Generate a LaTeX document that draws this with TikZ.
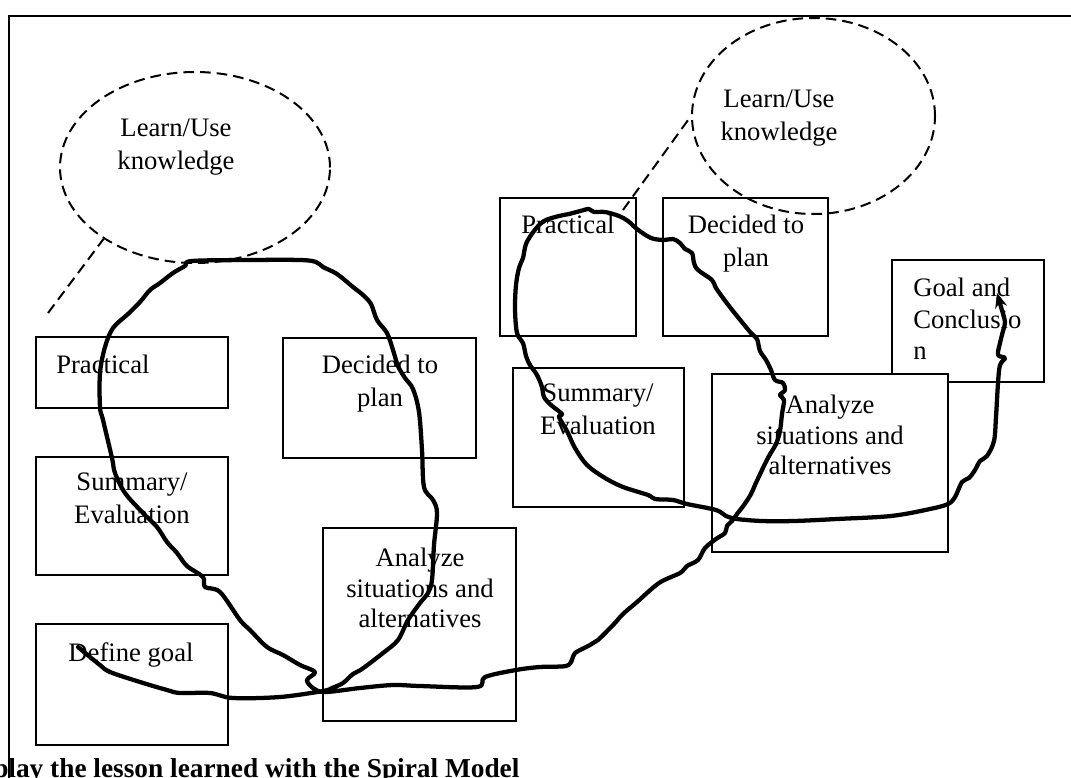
\documentclass[tikz,border=0pt]{standalone}
\usepackage{fontspec}
\setmainfont{Liberation Serif}
\usetikzlibrary{shapes.geometric,arrows.meta,fit}
\begin{document}
\begin{tikzpicture}[x=0.75pt,y=-0.75pt,
  box/.style={draw, line width=1.15pt, fill=white, inner sep=0pt},
  txt/.style={inner sep=0pt, font=\fontsize{20}{24.75}\selectfont, align=center},
  txtA/.style={inner sep=0pt, font=\fontsize{20}{22.9}\selectfont, align=center},
  bubble/.style={ellipse, draw, line width=1.5pt, dash pattern=on 8pt off 4.5pt, inner sep=0pt},
  lead/.style={line width=1.5pt, dash pattern=on 8pt off 4.5pt},
  spiral/.style={line width=3.2pt, line join=round, line cap=round},
  frame/.style={line width=1.6pt}]

\useasboundingbox (0,0) rectangle (1071,778);
\clip (0,0) rectangle (1071,778);

% boxes
\node[box, fit={(36,337) (228,408)}] (prL) {};
\node[box, fit={(36,457) (228,575)}] (suL) {};
\node[box, fit={(36,624) (228,745)}] (dgL) {};
\node[box, fit={(283,338) (476,458)}] (deL) {};
\node[box, fit={(323,528) (516,721)}] (anL) {};
\node[box, fit={(500,198) (636,336)}] (prR) {};
\node[box, fit={(663,198) (828,336)}] (deR) {};
\node[box, fit={(513,368) (684,507)}] (suR) {};
\node[box, fit={(892,260) (1044,382)}] (goal) {};
\node[box, fit={(712,374) (948,552)}] (anR) {};

% box texts
\node[txt, anchor=north west, align=left] (prLt) at (56,355) {Practical};
\node[txt, anchor=north] (suLt) at (132,473) {Summary/\\Evaluation};
\node[txt, anchor=north] (dgLt) at (131,642) {Define goal};
\node[txt, anchor=north] (deLt) at (380,355) {Decided to\\plan};
\node[txtA, anchor=north] (anLt) at (420,548) {Analyze\\situations and\\alternatives};
\node[txt, anchor=north west, align=left] (prRt) at (521,215) {Practical};
\node[txt, anchor=north] (deRt) at (746,215) {Decided to\\plan};
\node[txt, anchor=north] (suRt) at (598,384) {Summary/\\Evaluation};
\node[txtA, anchor=north] (anRt) at (830,395) {Analyze\\situations and\\alternatives};
\node[txtA, anchor=north west, align=left, font=\fontsize{20}{23.6}\selectfont] (goalt) at (913,278) {Goal and\\Conclusio\\n};

% knowledge bubbles
\node[bubble, minimum width=202.5pt, minimum height=143.25pt] (ellL) at (195,167.5) {};
\node[bubble, minimum width=182.25pt, minimum height=147pt] (ellR) at (813.5,116) {};
\node[txt, anchor=north] (ellLt) at (176,119) {Learn/Use\\knowledge};
\node[txt, anchor=north] (ellRt) at (779,90) {Learn/Use\\knowledge};

\coordinate (lL) at (48,313);
\coordinate (lR) at (623,210);
\draw[lead] (lL) -- (ellL.218);
\draw[lead] (lR) -- (ellR.180);

% spiral
\draw[spiral, -{Stealth[length=11pt,width=9pt]}] plot[smooth, tension=0.55] coordinates {
(78,647) (90,657) (100,665) (110,672) (140,682) (167,690) (180,693) (210,693) (233,698) (280,697) (323,691)
(332,688) (343,683) (353,674) (362,669) (383,653) (398,640) (408,620) (420,603) (428,593) (432,580) (434,545) (437,513) (433,500) (424,487) (422,450) (419,412) (413,389) (405,378) (398,366) (393,350) (387,333) (377,320) (371,304) (363,295) (353,287) (337,274) (323,267) (316,262) (300,260) (250,260) (192,261) (185,266) (173,273) (160,283) (150,290) (140,302) (128,314) (113,328) (105,347) (100,373) (100,407) (103,420) (112,458) (115,473) (125,493) (143,513) (157,527) (167,542) (177,553) (187,566) (203,577) (205,587) (220,592) (240,620) (250,630) (267,647) (283,655) (300,665) (315,672) (307,680) (313,688) (325,692)
(360,688) (393,685) (420,686) (477,687) (485,677) (516,670) (540,667) (566,666) (572,660) (575,653) (590,645) (598,640) (614,624) (623,614) (637,602) (659,583) (680,573) (687,566) (698,560) (705,548) (716,539) (725,533) (727,526) (732,521) (737,514) (744,505) (751,494) (755,485) (762,470) (769,456) (776,444) (780,431) (782,414) (784,400) (780,395) (785,390) (783,383) (775,380) (771,370) (766,360) (760,351) (757,339) (751,333) (737,316) (726,302) (716,288) (712,280) (698,270) (694,263) (692,253) (685,249) (680,243) (673,239) (664,240) (651,238) (637,229) (628,221) (619,216) (605,212) (594,212) (589,209) (584,210) (569,214) (559,216) (544,221) (534,231) (526,244) (523,258) (519,268) (516,285) (515,309) (517,333) (523,343) (526,356) (530,365) (537,375) (542,387) (544,397) (551,405) (562,414) (559,417) (567,431) (575,448) (587,465) (605,478) (623,487) (648,495) (655,499) (673,500) (687,504) (716,510) (726,516) (737,519) (762,521) (794,521) (837,519) (891,516) (930,509) (948,504) (955,497) (962,482) (969,478) (975,470) (980,461) (987,456) (994,441) (996,417) (998,383) (1000,365) (1005,358) (998,355) (1000,343) (1003,331) (1005,322) (1001,307) (997,293)};

% caption and frame
\node[anchor=base west, inner sep=0pt, font=\bfseries\fontsize{20.5}{24}\selectfont] (title) at (-7,777) {play the lesson learned with the Spiral Model};
\draw[frame] (1080,16) -- (9,16) -- (9,790);
\end{tikzpicture}
\end{document}
